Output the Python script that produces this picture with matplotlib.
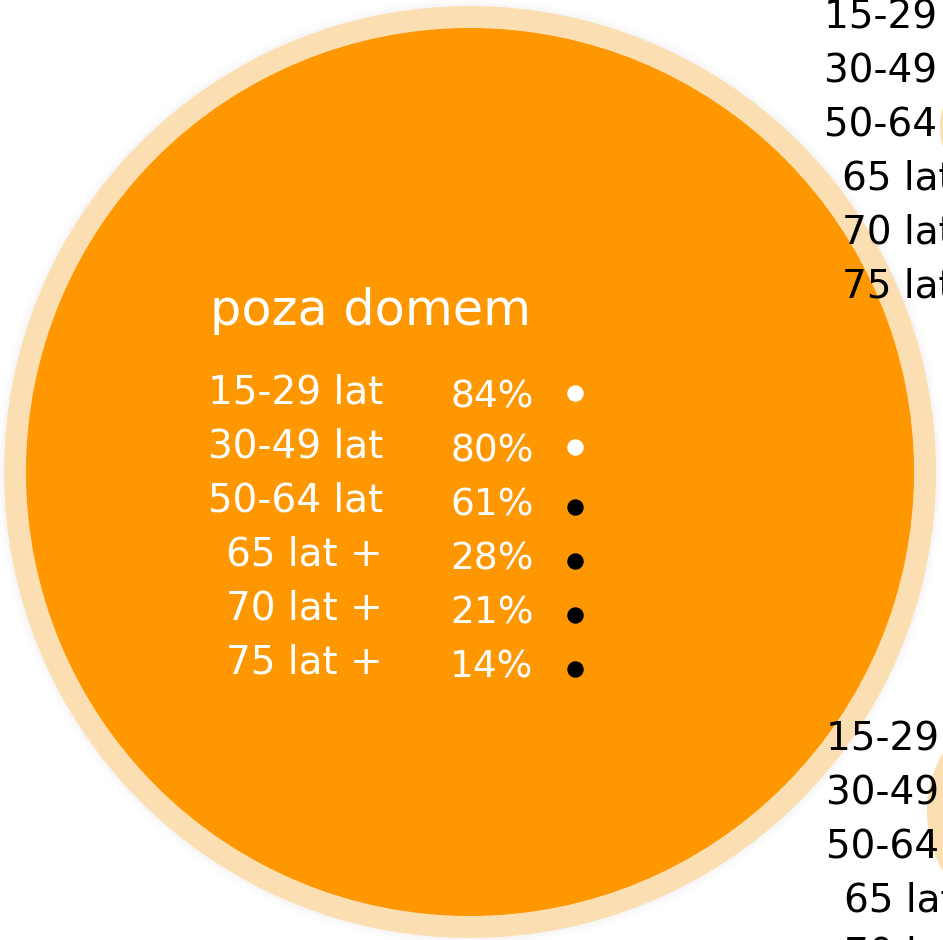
import matplotlib
matplotlib.use("Agg")
import matplotlib.pyplot as plt
from matplotlib.patches import Circle

# ---- data ----
title = "poza domem"
age_groups = ["15-29 lat", "30-49 lat", "50-64 lat", "65 lat +", "70 lat +", "75 lat +"]
poza_domem = [84, 80, 61, 28, 21, 14]
dot_colors = ["white", "white", "black", "black", "black", "black"]

ORANGE = "#FE9700"
PEACH = "#FCDEB3"
FONT = ["DejaVu Sans"]

W, H = 943, 940
fig = plt.figure(figsize=(W / 100, H / 100), dpi=100)
ax = fig.add_axes([0, 0, 1, 1])
ax.set_xlim(0, W)
ax.set_ylim(H, 0)
ax.set_aspect("equal")
ax.axis("off")

# main circle with soft shadow
cx, cy = 470, 472
for k, a in [(8, 0.015), (5, 0.02), (3, 0.03)]:
    ax.add_patch(Circle((cx, cy), 466 + k, color="#999999", alpha=a, lw=0, zorder=1))
ax.add_patch(Circle((cx, cy), 466, color=PEACH, lw=0, zorder=2))
ax.add_patch(Circle((cx, cy), 444, color=ORANGE, lw=0, zorder=3))

# neighbouring circles partly visible at right edge
ax.add_patch(Circle((1007, 127), 67, color=PEACH, lw=0, zorder=2))
ax.add_patch(Circle((1047, 812), 120, color=PEACH, lw=0, zorder=2))

fs = 28
# title
ax.text(371, 325, title, color="white", fontsize=35.5, family=FONT,
        ha="center", va="baseline", zorder=5)

base0, step = 403, 54
label_x, pct_x, dot_x = 383, 492, 575
for i, (lab, v, dc) in enumerate(zip(age_groups, poza_domem, dot_colors)):
    yb = base0 + i * step
    ax.text(label_x, yb, lab, color="white", fontsize=fs, family=FONT,
            ha="right", va="baseline", zorder=5)
    ax.text(pct_x, yb + 4, f"{v}%", color="white", fontsize=27, family=FONT,
            ha="center", va="baseline", zorder=5)
    ax.scatter([dot_x], [yb - 10 + (6 if dc == "black" else 0)], s=140, color=dc,
               lw=0, zorder=6)

# labels of neighbouring (cut-off) groups
for shift_x, shift_y in [(616, -375), (618, 347)]:
    for i, lab in enumerate(age_groups):
        yb = base0 + i * step + shift_y
        ax.text(label_x + shift_x, yb, lab, color="black", fontsize=fs, family=FONT,
                ha="right", va="baseline", zorder=5)

fig.savefig("out.png", dpi=100)
